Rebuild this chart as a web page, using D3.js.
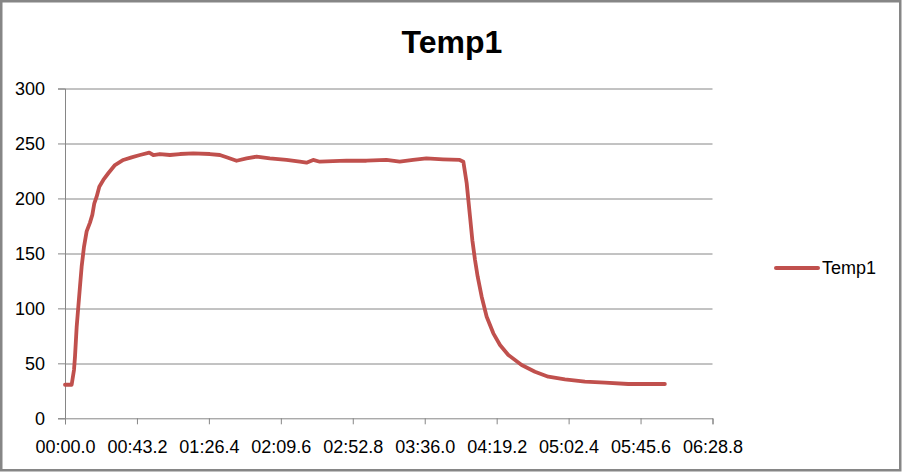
<!DOCTYPE html>
<html>
<head>
<meta charset="utf-8">
<script src="https://cdn.jsdelivr.net/npm/d3@7"></script>
<style>
  body { margin: 0; background: #fff; }
  svg { display: block; font-family: "Liberation Sans", Arial, sans-serif; }
  .tick text { font-size: 18px; fill: #000; }
</style>
</head>
<body>
<svg width="902" height="472"></svg>
<script>
// elapsed time (seconds) and temperature readings
const seconds = [0, 4, 5.4, 6, 7, 8, 9, 10, 11.4, 13, 15, 16.4, 17.6, 19, 20.6, 23, 26, 30, 35, 40, 45,
  50.6, 53, 57, 63, 69, 77, 87, 93, 97, 103, 109, 115, 123, 133, 141, 145, 149, 153, 169, 181,
  193, 201, 209, 217, 227, 237, 239.2, 241.2, 242.2, 243.2, 244.6, 246.2, 247.8, 250.2, 253.2,
  257.2, 261.2, 266.2, 274.2, 282.2, 290.2, 300.2, 312.2, 324.2, 338.2, 360.2];
const temp1 = [30.5, 30.5, 44, 56, 83, 101.5, 120, 138, 156, 170, 178, 185, 195.6, 201.6, 210.7,
  216.8, 222.9, 230.4, 235, 237.4, 239.5, 241.6, 239.5, 240.4, 239.5, 240.4, 241, 240.4, 239.5,
  237.4, 234.3, 236.5, 238, 236.5, 235, 233.4, 232.5, 235, 233.4, 234.3, 234.3, 235, 233.4, 235,
  236.5, 235.6, 235, 233.4, 213.8, 198.6, 183.4, 162, 144, 128.8, 110.6, 92.4, 77.3, 66.7, 57.6,
  48.5, 42.4, 37.8, 35.5, 33.3, 32.4, 31.2, 31.2];
const xTicks = [0, 43.2, 86.4, 129.6, 172.8, 216, 259.2, 302.4, 345.6, 388.8];
const yTicks = [0, 50, 100, 150, 200, 250, 300];
const seriesName = "Temp1";

const svg = d3.select("svg");
const margin = { top: 88.5, left: 65, right: 189.5, bottom: 53.7 };
const width = 902 - margin.left - margin.right,
      height = 472 - margin.top - margin.bottom;

const data = seconds.map((s, i) => ({ t: s, v: temp1[i] }));

// frame round the chart
svg.append("rect")
  .attr("x", 1.25).attr("y", 1.25)
  .attr("width", 899).attr("height", 469)
  .attr("fill", "#fff")
  .attr("stroke", "#868686")
  .attr("stroke-width", 2.5);

const chart = svg.append("g")
  .attr("transform", `translate(${margin.left},${margin.top})`);

const x = d3.scaleLinear().domain([0, 388.8]).range([0, width]);
const y = d3.scaleLinear().domain([0, 300]).range([height, 0]);

function fmtTime(s) {
  const m = Math.floor(s / 60 + 1e-9);
  const sec = s - m * 60;
  return String(m).padStart(2, "0") + ":" + (sec < 10 ? "0" : "") + sec.toFixed(1);
}

// gridlines
chart.append("g")
  .selectAll("line")
  .data(yTicks.filter(d => d > 0))
  .enter()
  .append("line")
  .attr("x1", 0).attr("x2", width)
  .attr("y1", d => Math.round(y(d)) + 0.5)
  .attr("y2", d => Math.round(y(d)) + 0.5)
  .attr("stroke", "#868686");

const yAxis = chart.append("g")
  .call(d3.axisLeft(y).tickValues(yTicks).tickSize(7).tickPadding(13));
yAxis.select(".domain").attr("stroke", "#868686");
yAxis.selectAll(".tick line").attr("stroke", "#868686");

const xAxis = chart.append("g")
  .attr("transform", `translate(0,${height})`)
  .call(d3.axisBottom(x).tickValues(xTicks).tickFormat(fmtTime).tickSize(6).tickPadding(16));
xAxis.select(".domain").attr("stroke", "#868686");
xAxis.selectAll(".tick line").attr("stroke", "#868686");

chart.append("path")
  .datum(data)
  .attr("fill", "none")
  .attr("stroke", "#C0504D")
  .attr("stroke-width", 3.8)
  .attr("stroke-linejoin", "round")
  .attr("stroke-linecap", "round")
  .attr("d", d3.line().x(d => x(d.t)).y(d => y(d.v)));

// title
svg.append("text")
  .attr("x", 452).attr("y", 53)
  .attr("text-anchor", "middle")
  .attr("font-size", 32)
  .attr("font-weight", "bold")
  .text(seriesName);

// legend
const legend = svg.append("g").attr("transform", "translate(776,268)");
legend.append("line")
  .attr("x1", 0).attr("x2", 42)
  .attr("stroke", "#C0504D")
  .attr("stroke-width", 4)
  .attr("stroke-linecap", "round");
legend.append("text")
  .attr("x", 46).attr("y", 6)
  .attr("font-size", 18)
  .text(seriesName);
</script>
</body>
</html>
